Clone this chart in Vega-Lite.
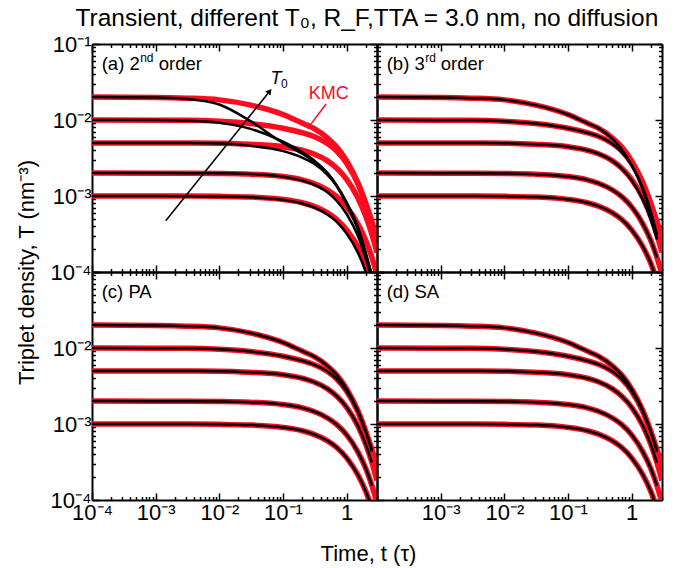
{
  "$schema": "https://vega.github.io/schema/vega-lite/v6.json",
  "padding": {"left": 15, "top": 5, "right": 10, "bottom": 6},
  "background": "white",
  "title": {"text": "Transient, different  T₀,  R_F,TTA = 3.0 nm, no diffusion", "font": "Liberation Sans", "fontSize": 24.5, "fontWeight": "normal", "color": "black", "anchor": "middle", "frame": "bounds", "dx": 28, "offset": 2},
  "bounds": "flush",
  "spacing": 0,
  "columns": 2,
  "datasets": {
    "kmc": [
      {"T0": 0.02, "t": 0.0001, "T": 0.02}, {"T0": 0.02, "t": 0.001, "T": 0.0198}, {"T0": 0.02, "t": 0.003, "T": 0.0194}, {"T0": 0.02, "t": 0.01, "T": 0.0184}, {"T0": 0.02, "t": 0.03, "T": 0.0158}, {"T0": 0.02, "t": 0.1, "T": 0.0118}, {"T0": 0.02, "t": 0.2, "T": 0.0091}, {"T0": 0.02, "t": 0.3, "T": 0.0078}, {"T0": 0.02, "t": 0.5, "T": 0.0058}, {"T0": 0.02, "t": 0.7, "T": 0.0044}, {"T0": 0.02, "t": 1, "T": 0.0029}, {"T0": 0.02, "t": 1.5, "T": 0.0015}, {"T0": 0.02, "t": 2, "T": 0.0008}, {"T0": 0.02, "t": 2.5, "T": 0.00046}, {"T0": 0.02, "t": 3, "T": 0.000275},
      {"T0": 0.01, "t": 0.0001, "T": 0.01}, {"T0": 0.01, "t": 0.001, "T": 0.00995}, {"T0": 0.01, "t": 0.003, "T": 0.0099}, {"T0": 0.01, "t": 0.01, "T": 0.0096}, {"T0": 0.01, "t": 0.03, "T": 0.009}, {"T0": 0.01, "t": 0.1, "T": 0.0078}, {"T0": 0.01, "t": 0.2, "T": 0.0068}, {"T0": 0.01, "t": 0.3, "T": 0.0061}, {"T0": 0.01, "t": 0.5, "T": 0.0049}, {"T0": 0.01, "t": 0.7, "T": 0.0039}, {"T0": 0.01, "t": 1, "T": 0.0027}, {"T0": 0.01, "t": 1.5, "T": 0.00145}, {"T0": 0.01, "t": 2, "T": 0.00078}, {"T0": 0.01, "t": 2.5, "T": 0.00043}, {"T0": 0.01, "t": 3, "T": 0.00024},
      {"T0": 0.005, "t": 0.0001, "T": 0.005}, {"T0": 0.005, "t": 0.001, "T": 0.004995}, {"T0": 0.005, "t": 0.003, "T": 0.00498}, {"T0": 0.005, "t": 0.01, "T": 0.00496}, {"T0": 0.005, "t": 0.03, "T": 0.0048}, {"T0": 0.005, "t": 0.1, "T": 0.00445}, {"T0": 0.005, "t": 0.2, "T": 0.004}, {"T0": 0.005, "t": 0.3, "T": 0.0036}, {"T0": 0.005, "t": 0.5, "T": 0.0029}, {"T0": 0.005, "t": 0.7, "T": 0.00232}, {"T0": 0.005, "t": 1, "T": 0.00166}, {"T0": 0.005, "t": 1.5, "T": 0.00095}, {"T0": 0.005, "t": 2, "T": 0.00054}, {"T0": 0.005, "t": 2.5, "T": 0.00031}, {"T0": 0.005, "t": 3, "T": 0.00018},
      {"T0": 0.002, "t": 0.0001, "T": 0.002}, {"T0": 0.002, "t": 0.001, "T": 0.001998}, {"T0": 0.002, "t": 0.003, "T": 0.001994}, {"T0": 0.002, "t": 0.01, "T": 0.00198}, {"T0": 0.002, "t": 0.03, "T": 0.00194}, {"T0": 0.002, "t": 0.1, "T": 0.0018}, {"T0": 0.002, "t": 0.2, "T": 0.00163}, {"T0": 0.002, "t": 0.3, "T": 0.00147}, {"T0": 0.002, "t": 0.5, "T": 0.0012}, {"T0": 0.002, "t": 0.7, "T": 0.00098}, {"T0": 0.002, "t": 1, "T": 0.00072}, {"T0": 0.002, "t": 1.5, "T": 0.00043}, {"T0": 0.002, "t": 2, "T": 0.00026}, {"T0": 0.002, "t": 2.5, "T": 0.000155}, {"T0": 0.002, "t": 3, "T": 0.000093},
      {"T0": 0.001, "t": 0.0001, "T": 0.001}, {"T0": 0.001, "t": 0.001, "T": 0.000999}, {"T0": 0.001, "t": 0.003, "T": 0.000997}, {"T0": 0.001, "t": 0.01, "T": 0.00099}, {"T0": 0.001, "t": 0.03, "T": 0.00097}, {"T0": 0.001, "t": 0.1, "T": 0.000902}, {"T0": 0.001, "t": 0.2, "T": 0.000816}, {"T0": 0.001, "t": 0.3, "T": 0.000737}, {"T0": 0.001, "t": 0.5, "T": 0.000601}, {"T0": 0.001, "t": 0.7, "T": 0.00049}, {"T0": 0.001, "t": 1, "T": 0.000358}, {"T0": 0.001, "t": 1.5, "T": 0.000215}, {"T0": 0.001, "t": 2, "T": 0.00013}, {"T0": 0.001, "t": 2.5, "T": 0.000078}, {"T0": 0.001, "t": 3, "T": 0.000047}
    ],
    "model": [
      {"panel": "a", "T0": 0.02, "t": 0.0001, "T": 0.02}, {"panel": "a", "T0": 0.02, "t": 0.001, "T": 0.0198}, {"panel": "a", "T0": 0.02, "t": 0.003, "T": 0.019}, {"panel": "a", "T0": 0.02, "t": 0.01, "T": 0.016}, {"panel": "a", "T0": 0.02, "t": 0.03, "T": 0.0098}, {"panel": "a", "T0": 0.02, "t": 0.1, "T": 0.005}, {"panel": "a", "T0": 0.02, "t": 0.2, "T": 0.0036}, {"panel": "a", "T0": 0.02, "t": 0.3, "T": 0.0029}, {"panel": "a", "T0": 0.02, "t": 0.5, "T": 0.002}, {"panel": "a", "T0": 0.02, "t": 0.7, "T": 0.00135}, {"panel": "a", "T0": 0.02, "t": 1, "T": 0.00078}, {"panel": "a", "T0": 0.02, "t": 1.5, "T": 0.00036}, {"panel": "a", "T0": 0.02, "t": 2, "T": 0.00016}, {"panel": "a", "T0": 0.02, "t": 2.5, "T": 0.000085},
      {"panel": "a", "T0": 0.01, "t": 0.0001, "T": 0.01}, {"panel": "a", "T0": 0.01, "t": 0.001, "T": 0.00998}, {"panel": "a", "T0": 0.01, "t": 0.003, "T": 0.0098}, {"panel": "a", "T0": 0.01, "t": 0.01, "T": 0.0092}, {"panel": "a", "T0": 0.01, "t": 0.03, "T": 0.0077}, {"panel": "a", "T0": 0.01, "t": 0.1, "T": 0.0052}, {"panel": "a", "T0": 0.01, "t": 0.2, "T": 0.0038}, {"panel": "a", "T0": 0.01, "t": 0.3, "T": 0.003}, {"panel": "a", "T0": 0.01, "t": 0.5, "T": 0.002}, {"panel": "a", "T0": 0.01, "t": 0.7, "T": 0.00138}, {"panel": "a", "T0": 0.01, "t": 1, "T": 0.00082}, {"panel": "a", "T0": 0.01, "t": 1.5, "T": 0.00038}, {"panel": "a", "T0": 0.01, "t": 2, "T": 0.00017}, {"panel": "a", "T0": 0.01, "t": 2.5, "T": 0.00009},
      {"panel": "a", "T0": 0.005, "t": 0.0001, "T": 0.005}, {"panel": "a", "T0": 0.005, "t": 0.001, "T": 0.005}, {"panel": "a", "T0": 0.005, "t": 0.003, "T": 0.00498}, {"panel": "a", "T0": 0.005, "t": 0.01, "T": 0.0049}, {"panel": "a", "T0": 0.005, "t": 0.03, "T": 0.0046}, {"panel": "a", "T0": 0.005, "t": 0.1, "T": 0.0039}, {"panel": "a", "T0": 0.005, "t": 0.2, "T": 0.0032}, {"panel": "a", "T0": 0.005, "t": 0.3, "T": 0.0027}, {"panel": "a", "T0": 0.005, "t": 0.5, "T": 0.0019}, {"panel": "a", "T0": 0.005, "t": 0.7, "T": 0.00135}, {"panel": "a", "T0": 0.005, "t": 1, "T": 0.00082}, {"panel": "a", "T0": 0.005, "t": 1.5, "T": 0.00039}, {"panel": "a", "T0": 0.005, "t": 2, "T": 0.00018}, {"panel": "a", "T0": 0.005, "t": 2.5, "T": 0.00009},
      {"panel": "a", "T0": 0.002, "t": 0.0001, "T": 0.002}, {"panel": "a", "T0": 0.002, "t": 0.001, "T": 0.002}, {"panel": "a", "T0": 0.002, "t": 0.003, "T": 0.001998}, {"panel": "a", "T0": 0.002, "t": 0.01, "T": 0.00199}, {"panel": "a", "T0": 0.002, "t": 0.03, "T": 0.00195}, {"panel": "a", "T0": 0.002, "t": 0.1, "T": 0.0018}, {"panel": "a", "T0": 0.002, "t": 0.2, "T": 0.0016}, {"panel": "a", "T0": 0.002, "t": 0.3, "T": 0.00142}, {"panel": "a", "T0": 0.002, "t": 0.5, "T": 0.00112}, {"panel": "a", "T0": 0.002, "t": 0.7, "T": 0.00086}, {"panel": "a", "T0": 0.002, "t": 1, "T": 0.00058}, {"panel": "a", "T0": 0.002, "t": 1.5, "T": 0.0003}, {"panel": "a", "T0": 0.002, "t": 2, "T": 0.00015}, {"panel": "a", "T0": 0.002, "t": 2.5, "T": 0.00008},
      {"panel": "a", "T0": 0.001, "t": 0.0001, "T": 0.001}, {"panel": "a", "T0": 0.001, "t": 0.001, "T": 0.000999}, {"panel": "a", "T0": 0.001, "t": 0.003, "T": 0.000996}, {"panel": "a", "T0": 0.001, "t": 0.01, "T": 0.000988}, {"panel": "a", "T0": 0.001, "t": 0.03, "T": 0.000963}, {"panel": "a", "T0": 0.001, "t": 0.1, "T": 0.00089}, {"panel": "a", "T0": 0.001, "t": 0.2, "T": 0.000795}, {"panel": "a", "T0": 0.001, "t": 0.3, "T": 0.000712}, {"panel": "a", "T0": 0.001, "t": 0.5, "T": 0.000572}, {"panel": "a", "T0": 0.001, "t": 0.7, "T": 0.000458}, {"panel": "a", "T0": 0.001, "t": 1, "T": 0.00032}, {"panel": "a", "T0": 0.001, "t": 1.5, "T": 0.00018}, {"panel": "a", "T0": 0.001, "t": 2, "T": 0.0001}, {"panel": "a", "T0": 0.001, "t": 2.5, "T": 0.000056},

      {"panel": "b", "T0": 0.02, "t": 0.0001, "T": 0.02}, {"panel": "b", "T0": 0.02, "t": 0.001, "T": 0.0198}, {"panel": "b", "T0": 0.02, "t": 0.003, "T": 0.0194}, {"panel": "b", "T0": 0.02, "t": 0.01, "T": 0.0184}, {"panel": "b", "T0": 0.02, "t": 0.03, "T": 0.0158}, {"panel": "b", "T0": 0.02, "t": 0.1, "T": 0.0118}, {"panel": "b", "T0": 0.02, "t": 0.2, "T": 0.0091}, {"panel": "b", "T0": 0.02, "t": 0.3, "T": 0.0078}, {"panel": "b", "T0": 0.02, "t": 0.5, "T": 0.005626}, {"panel": "b", "T0": 0.02, "t": 0.7, "T": 0.004092}, {"panel": "b", "T0": 0.02, "t": 1, "T": 0.002552}, {"panel": "b", "T0": 0.02, "t": 1.5, "T": 0.0012}, {"panel": "b", "T0": 0.02, "t": 2, "T": 0.00056}, {"panel": "b", "T0": 0.02, "t": 2.5, "T": 0.000276},
      {"panel": "b", "T0": 0.01, "t": 0.0001, "T": 0.01}, {"panel": "b", "T0": 0.01, "t": 0.001, "T": 0.00995}, {"panel": "b", "T0": 0.01, "t": 0.003, "T": 0.0099}, {"panel": "b", "T0": 0.01, "t": 0.01, "T": 0.0096}, {"panel": "b", "T0": 0.01, "t": 0.03, "T": 0.009}, {"panel": "b", "T0": 0.01, "t": 0.1, "T": 0.0078}, {"panel": "b", "T0": 0.01, "t": 0.2, "T": 0.0068}, {"panel": "b", "T0": 0.01, "t": 0.3, "T": 0.0061}, {"panel": "b", "T0": 0.01, "t": 0.5, "T": 0.004851}, {"panel": "b", "T0": 0.01, "t": 0.7, "T": 0.003783}, {"panel": "b", "T0": 0.01, "t": 1, "T": 0.002538}, {"panel": "b", "T0": 0.01, "t": 1.5, "T": 0.001276}, {"panel": "b", "T0": 0.01, "t": 2, "T": 0.000624}, {"panel": "b", "T0": 0.01, "t": 2.5, "T": 0.00031},
      {"panel": "b", "T0": 0.005, "t": 0.0001, "T": 0.005}, {"panel": "b", "T0": 0.005, "t": 0.001, "T": 0.004995}, {"panel": "b", "T0": 0.005, "t": 0.003, "T": 0.00498}, {"panel": "b", "T0": 0.005, "t": 0.01, "T": 0.00496}, {"panel": "b", "T0": 0.005, "t": 0.03, "T": 0.0048}, {"panel": "b", "T0": 0.005, "t": 0.1, "T": 0.00445}, {"panel": "b", "T0": 0.005, "t": 0.2, "T": 0.004}, {"panel": "b", "T0": 0.005, "t": 0.3, "T": 0.0036}, {"panel": "b", "T0": 0.005, "t": 0.5, "T": 0.0029}, {"panel": "b", "T0": 0.005, "t": 0.7, "T": 0.002297}, {"panel": "b", "T0": 0.005, "t": 1, "T": 0.00161}, {"panel": "b", "T0": 0.005, "t": 1.5, "T": 0.000893}, {"panel": "b", "T0": 0.005, "t": 2, "T": 0.000486}, {"panel": "b", "T0": 0.005, "t": 2.5, "T": 0.000267},
      {"panel": "b", "T0": 0.002, "t": 0.0001, "T": 0.002}, {"panel": "b", "T0": 0.002, "t": 0.001, "T": 0.001998}, {"panel": "b", "T0": 0.002, "t": 0.003, "T": 0.001994}, {"panel": "b", "T0": 0.002, "t": 0.01, "T": 0.00198}, {"panel": "b", "T0": 0.002, "t": 0.03, "T": 0.00194}, {"panel": "b", "T0": 0.002, "t": 0.1, "T": 0.0018}, {"panel": "b", "T0": 0.002, "t": 0.2, "T": 0.00163}, {"panel": "b", "T0": 0.002, "t": 0.3, "T": 0.00147}, {"panel": "b", "T0": 0.002, "t": 0.5, "T": 0.0012}, {"panel": "b", "T0": 0.002, "t": 0.7, "T": 0.00098}, {"panel": "b", "T0": 0.002, "t": 1, "T": 0.00072}, {"panel": "b", "T0": 0.002, "t": 1.5, "T": 0.00043}, {"panel": "b", "T0": 0.002, "t": 2, "T": 0.00026}, {"panel": "b", "T0": 0.002, "t": 2.5, "T": 0.000155},
      {"panel": "b", "T0": 0.001, "t": 0.0001, "T": 0.001}, {"panel": "b", "T0": 0.001, "t": 0.001, "T": 0.000999}, {"panel": "b", "T0": 0.001, "t": 0.003, "T": 0.000997}, {"panel": "b", "T0": 0.001, "t": 0.01, "T": 0.00099}, {"panel": "b", "T0": 0.001, "t": 0.03, "T": 0.00097}, {"panel": "b", "T0": 0.001, "t": 0.1, "T": 0.000902}, {"panel": "b", "T0": 0.001, "t": 0.2, "T": 0.000816}, {"panel": "b", "T0": 0.001, "t": 0.3, "T": 0.000737}, {"panel": "b", "T0": 0.001, "t": 0.5, "T": 0.000601}, {"panel": "b", "T0": 0.001, "t": 0.7, "T": 0.00049}, {"panel": "b", "T0": 0.001, "t": 1, "T": 0.000358}, {"panel": "b", "T0": 0.001, "t": 1.5, "T": 0.000215}, {"panel": "b", "T0": 0.001, "t": 2, "T": 0.00013}, {"panel": "b", "T0": 0.001, "t": 2.5, "T": 0.000078},

      {"panel": "c", "T0": 0.02, "t": 0.0001, "T": 0.02}, {"panel": "c", "T0": 0.02, "t": 0.001, "T": 0.0198}, {"panel": "c", "T0": 0.02, "t": 0.003, "T": 0.0194}, {"panel": "c", "T0": 0.02, "t": 0.01, "T": 0.0184}, {"panel": "c", "T0": 0.02, "t": 0.03, "T": 0.0158}, {"panel": "c", "T0": 0.02, "t": 0.1, "T": 0.0118}, {"panel": "c", "T0": 0.02, "t": 0.2, "T": 0.0091}, {"panel": "c", "T0": 0.02, "t": 0.3, "T": 0.0078}, {"panel": "c", "T0": 0.02, "t": 0.5, "T": 0.0058}, {"panel": "c", "T0": 0.02, "t": 0.7, "T": 0.0044}, {"panel": "c", "T0": 0.02, "t": 1, "T": 0.0029}, {"panel": "c", "T0": 0.02, "t": 1.5, "T": 0.0015}, {"panel": "c", "T0": 0.02, "t": 2, "T": 0.0008}, {"panel": "c", "T0": 0.02, "t": 2.5, "T": 0.00046},
      {"panel": "c", "T0": 0.01, "t": 0.0001, "T": 0.01}, {"panel": "c", "T0": 0.01, "t": 0.001, "T": 0.00995}, {"panel": "c", "T0": 0.01, "t": 0.003, "T": 0.0099}, {"panel": "c", "T0": 0.01, "t": 0.01, "T": 0.0096}, {"panel": "c", "T0": 0.01, "t": 0.03, "T": 0.009}, {"panel": "c", "T0": 0.01, "t": 0.1, "T": 0.0078}, {"panel": "c", "T0": 0.01, "t": 0.2, "T": 0.0068}, {"panel": "c", "T0": 0.01, "t": 0.3, "T": 0.0061}, {"panel": "c", "T0": 0.01, "t": 0.5, "T": 0.0049}, {"panel": "c", "T0": 0.01, "t": 0.7, "T": 0.0039}, {"panel": "c", "T0": 0.01, "t": 1, "T": 0.0027}, {"panel": "c", "T0": 0.01, "t": 1.5, "T": 0.00145}, {"panel": "c", "T0": 0.01, "t": 2, "T": 0.00078}, {"panel": "c", "T0": 0.01, "t": 2.5, "T": 0.00043},
      {"panel": "c", "T0": 0.005, "t": 0.0001, "T": 0.005}, {"panel": "c", "T0": 0.005, "t": 0.001, "T": 0.004995}, {"panel": "c", "T0": 0.005, "t": 0.003, "T": 0.00498}, {"panel": "c", "T0": 0.005, "t": 0.01, "T": 0.00496}, {"panel": "c", "T0": 0.005, "t": 0.03, "T": 0.0048}, {"panel": "c", "T0": 0.005, "t": 0.1, "T": 0.00445}, {"panel": "c", "T0": 0.005, "t": 0.2, "T": 0.004}, {"panel": "c", "T0": 0.005, "t": 0.3, "T": 0.0036}, {"panel": "c", "T0": 0.005, "t": 0.5, "T": 0.0029}, {"panel": "c", "T0": 0.005, "t": 0.7, "T": 0.00232}, {"panel": "c", "T0": 0.005, "t": 1, "T": 0.00166}, {"panel": "c", "T0": 0.005, "t": 1.5, "T": 0.00095}, {"panel": "c", "T0": 0.005, "t": 2, "T": 0.00054}, {"panel": "c", "T0": 0.005, "t": 2.5, "T": 0.00031},
      {"panel": "c", "T0": 0.002, "t": 0.0001, "T": 0.002}, {"panel": "c", "T0": 0.002, "t": 0.001, "T": 0.001998}, {"panel": "c", "T0": 0.002, "t": 0.003, "T": 0.001994}, {"panel": "c", "T0": 0.002, "t": 0.01, "T": 0.00198}, {"panel": "c", "T0": 0.002, "t": 0.03, "T": 0.00194}, {"panel": "c", "T0": 0.002, "t": 0.1, "T": 0.0018}, {"panel": "c", "T0": 0.002, "t": 0.2, "T": 0.00163}, {"panel": "c", "T0": 0.002, "t": 0.3, "T": 0.00147}, {"panel": "c", "T0": 0.002, "t": 0.5, "T": 0.0012}, {"panel": "c", "T0": 0.002, "t": 0.7, "T": 0.00098}, {"panel": "c", "T0": 0.002, "t": 1, "T": 0.00072}, {"panel": "c", "T0": 0.002, "t": 1.5, "T": 0.00043}, {"panel": "c", "T0": 0.002, "t": 2, "T": 0.00026}, {"panel": "c", "T0": 0.002, "t": 2.5, "T": 0.000155},
      {"panel": "c", "T0": 0.001, "t": 0.0001, "T": 0.001}, {"panel": "c", "T0": 0.001, "t": 0.001, "T": 0.000999}, {"panel": "c", "T0": 0.001, "t": 0.003, "T": 0.000997}, {"panel": "c", "T0": 0.001, "t": 0.01, "T": 0.00099}, {"panel": "c", "T0": 0.001, "t": 0.03, "T": 0.00097}, {"panel": "c", "T0": 0.001, "t": 0.1, "T": 0.000902}, {"panel": "c", "T0": 0.001, "t": 0.2, "T": 0.000816}, {"panel": "c", "T0": 0.001, "t": 0.3, "T": 0.000737}, {"panel": "c", "T0": 0.001, "t": 0.5, "T": 0.000601}, {"panel": "c", "T0": 0.001, "t": 0.7, "T": 0.00049}, {"panel": "c", "T0": 0.001, "t": 1, "T": 0.000358}, {"panel": "c", "T0": 0.001, "t": 1.5, "T": 0.000215}, {"panel": "c", "T0": 0.001, "t": 2, "T": 0.00013}, {"panel": "c", "T0": 0.001, "t": 2.5, "T": 0.000078},

      {"panel": "d", "T0": 0.02, "t": 0.0001, "T": 0.02}, {"panel": "d", "T0": 0.02, "t": 0.001, "T": 0.0198}, {"panel": "d", "T0": 0.02, "t": 0.003, "T": 0.0194}, {"panel": "d", "T0": 0.02, "t": 0.01, "T": 0.0184}, {"panel": "d", "T0": 0.02, "t": 0.03, "T": 0.0158}, {"panel": "d", "T0": 0.02, "t": 0.1, "T": 0.0118}, {"panel": "d", "T0": 0.02, "t": 0.2, "T": 0.0091}, {"panel": "d", "T0": 0.02, "t": 0.3, "T": 0.0078}, {"panel": "d", "T0": 0.02, "t": 0.5, "T": 0.0058}, {"panel": "d", "T0": 0.02, "t": 0.7, "T": 0.0044}, {"panel": "d", "T0": 0.02, "t": 1, "T": 0.0029}, {"panel": "d", "T0": 0.02, "t": 1.5, "T": 0.0015}, {"panel": "d", "T0": 0.02, "t": 2, "T": 0.0008}, {"panel": "d", "T0": 0.02, "t": 2.5, "T": 0.00046},
      {"panel": "d", "T0": 0.01, "t": 0.0001, "T": 0.01}, {"panel": "d", "T0": 0.01, "t": 0.001, "T": 0.00995}, {"panel": "d", "T0": 0.01, "t": 0.003, "T": 0.0099}, {"panel": "d", "T0": 0.01, "t": 0.01, "T": 0.0096}, {"panel": "d", "T0": 0.01, "t": 0.03, "T": 0.009}, {"panel": "d", "T0": 0.01, "t": 0.1, "T": 0.0078}, {"panel": "d", "T0": 0.01, "t": 0.2, "T": 0.0068}, {"panel": "d", "T0": 0.01, "t": 0.3, "T": 0.0061}, {"panel": "d", "T0": 0.01, "t": 0.5, "T": 0.0049}, {"panel": "d", "T0": 0.01, "t": 0.7, "T": 0.0039}, {"panel": "d", "T0": 0.01, "t": 1, "T": 0.0027}, {"panel": "d", "T0": 0.01, "t": 1.5, "T": 0.00145}, {"panel": "d", "T0": 0.01, "t": 2, "T": 0.00078}, {"panel": "d", "T0": 0.01, "t": 2.5, "T": 0.00043},
      {"panel": "d", "T0": 0.005, "t": 0.0001, "T": 0.005}, {"panel": "d", "T0": 0.005, "t": 0.001, "T": 0.004995}, {"panel": "d", "T0": 0.005, "t": 0.003, "T": 0.00498}, {"panel": "d", "T0": 0.005, "t": 0.01, "T": 0.00496}, {"panel": "d", "T0": 0.005, "t": 0.03, "T": 0.0048}, {"panel": "d", "T0": 0.005, "t": 0.1, "T": 0.00445}, {"panel": "d", "T0": 0.005, "t": 0.2, "T": 0.004}, {"panel": "d", "T0": 0.005, "t": 0.3, "T": 0.0036}, {"panel": "d", "T0": 0.005, "t": 0.5, "T": 0.0029}, {"panel": "d", "T0": 0.005, "t": 0.7, "T": 0.00232}, {"panel": "d", "T0": 0.005, "t": 1, "T": 0.00166}, {"panel": "d", "T0": 0.005, "t": 1.5, "T": 0.00095}, {"panel": "d", "T0": 0.005, "t": 2, "T": 0.00054}, {"panel": "d", "T0": 0.005, "t": 2.5, "T": 0.00031},
      {"panel": "d", "T0": 0.002, "t": 0.0001, "T": 0.002}, {"panel": "d", "T0": 0.002, "t": 0.001, "T": 0.001998}, {"panel": "d", "T0": 0.002, "t": 0.003, "T": 0.001994}, {"panel": "d", "T0": 0.002, "t": 0.01, "T": 0.00198}, {"panel": "d", "T0": 0.002, "t": 0.03, "T": 0.00194}, {"panel": "d", "T0": 0.002, "t": 0.1, "T": 0.0018}, {"panel": "d", "T0": 0.002, "t": 0.2, "T": 0.00163}, {"panel": "d", "T0": 0.002, "t": 0.3, "T": 0.00147}, {"panel": "d", "T0": 0.002, "t": 0.5, "T": 0.0012}, {"panel": "d", "T0": 0.002, "t": 0.7, "T": 0.00098}, {"panel": "d", "T0": 0.002, "t": 1, "T": 0.00072}, {"panel": "d", "T0": 0.002, "t": 1.5, "T": 0.00043}, {"panel": "d", "T0": 0.002, "t": 2, "T": 0.00026}, {"panel": "d", "T0": 0.002, "t": 2.5, "T": 0.000155},
      {"panel": "d", "T0": 0.001, "t": 0.0001, "T": 0.001}, {"panel": "d", "T0": 0.001, "t": 0.001, "T": 0.000999}, {"panel": "d", "T0": 0.001, "t": 0.003, "T": 0.000997}, {"panel": "d", "T0": 0.001, "t": 0.01, "T": 0.00099}, {"panel": "d", "T0": 0.001, "t": 0.03, "T": 0.00097}, {"panel": "d", "T0": 0.001, "t": 0.1, "T": 0.000902}, {"panel": "d", "T0": 0.001, "t": 0.2, "T": 0.000816}, {"panel": "d", "T0": 0.001, "t": 0.3, "T": 0.000737}, {"panel": "d", "T0": 0.001, "t": 0.5, "T": 0.000601}, {"panel": "d", "T0": 0.001, "t": 0.7, "T": 0.00049}, {"panel": "d", "T0": 0.001, "t": 1, "T": 0.000358}, {"panel": "d", "T0": 0.001, "t": 1.5, "T": 0.000215}, {"panel": "d", "T0": 0.001, "t": 2, "T": 0.00013}, {"panel": "d", "T0": 0.001, "t": 2.5, "T": 0.000078}
    ]
  },
  "concat": [
    {
      "width": 285, "height": 228,
      "resolve": {"axis": {"x": "independent", "y": "independent"}},
      "layer": [
        {
          "data": {"name": "kmc"},
          "mark": {"type": "line", "color": "#ff0a1e", "strokeWidth": 5.5, "clip": true, "interpolate": "monotone"},
          "encoding": {
            "x": {"field": "t", "type": "quantitative", "scale": {"type": "log", "domain": [0.0001, 3], "nice": false},
              "axis": {"orient": "bottom", "values": [0.0001,0.0002,0.0003,0.0004,0.0005,0.0006,0.0007,0.0008,0.0009,0.001,0.002,0.003,0.004,0.005,0.006,0.007,0.008,0.009,0.01,0.02,0.03,0.04,0.05,0.06,0.07,0.08,0.09,0.1,0.2,0.3,0.4,0.5,0.6,0.7,0.8,0.9,1,2,3], "tickSize": {"condition": {"test": "indexof([0.0001,0.001,0.01,0.1,1], datum.value) >= 0", "value": -7}, "value": -3.5}, "labels": false, "title": null}},
            "y": {"field": "T", "type": "quantitative", "scale": {"type": "log", "domain": [0.0001, 0.1], "nice": false},
              "axis": {"orient": "left", "values": [0.0001,0.0002,0.0003,0.0004,0.0005,0.0006,0.0007,0.0008,0.0009,0.001,0.002,0.003,0.004,0.005,0.006,0.007,0.008,0.009,0.01,0.02,0.03,0.04,0.05,0.06,0.07,0.08,0.09,0.1], "tickSize": {"condition": {"test": "indexof([0.0001,0.001,0.01,0.1,1], datum.value) >= 0", "value": -7}, "value": -3.5},
                "labelExpr": "datum.value == 0.1 ? '10⁻¹' : datum.value == 0.01 ? '10⁻²' : datum.value == 0.001 ? '10⁻³' : datum.value == 0.0001 ? '10⁻⁴' : ''", "labelPadding": 8,
                "title": "Triplet density,  T (nm⁻³)", "titleX": -59, "titleY": 228, "titleAlign": "center", "titleBaseline": "alphabetic", "titleAngle": -90}},
            "detail": {"field": "T0"}
          }
        },
        {
          "data": {"name": "model"},
          "transform": [{"filter": "datum.panel == 'a'"}],
          "mark": {"type": "line", "color": "black", "strokeWidth": 2.5, "clip": true, "interpolate": "monotone"},
          "encoding": {
            "x": {"field": "t", "type": "quantitative", "scale": {"type": "log", "domain": [0.0001, 3], "nice": false},
              "axis": {"orient": "top", "values": [0.0001,0.0002,0.0003,0.0004,0.0005,0.0006,0.0007,0.0008,0.0009,0.001,0.002,0.003,0.004,0.005,0.006,0.007,0.008,0.009,0.01,0.02,0.03,0.04,0.05,0.06,0.07,0.08,0.09,0.1,0.2,0.3,0.4,0.5,0.6,0.7,0.8,0.9,1,2,3], "tickSize": {"condition": {"test": "indexof([0.0001,0.001,0.01,0.1,1], datum.value) >= 0", "value": -7}, "value": -3.5}, "labels": false, "title": null}},
            "y": {"field": "T", "type": "quantitative", "scale": {"type": "log", "domain": [0.0001, 0.1], "nice": false},
              "axis": {"orient": "right", "values": [0.0001,0.0002,0.0003,0.0004,0.0005,0.0006,0.0007,0.0008,0.0009,0.001,0.002,0.003,0.004,0.005,0.006,0.007,0.008,0.009,0.01,0.02,0.03,0.04,0.05,0.06,0.07,0.08,0.09,0.1], "tickSize": {"condition": {"test": "indexof([0.0001,0.001,0.01,0.1,1], datum.value) >= 0", "value": -7}, "value": -3.5}, "labels": false, "title": null}},
            "detail": {"field": "T0"}
          }
        },
        {
          "data": {"values": [{"t": 0.00144, "T": 0.000473, "t2": 0.0618, "T2": 0.0239}]},
          "mark": {"type": "rule", "color": "black", "strokeWidth": 1.5},
          "encoding": {
            "x": {"field": "t", "type": "quantitative", "scale": {"type": "log", "domain": [0.0001, 3], "nice": false}, "axis": null},
            "y": {"field": "T", "type": "quantitative", "scale": {"type": "log", "domain": [0.0001, 0.1], "nice": false}, "axis": null},
            "x2": {"field": "t2"}, "y2": {"field": "T2"}
          }
        },
        {
          "data": {"values": [{"t": 0.0618, "T": 0.0239}]},
          "mark": {"type": "point", "shape": "triangle-up", "filled": true, "color": "black", "opacity": 1, "size": 45, "angle": 38.8},
          "encoding": {
            "x": {"field": "t", "type": "quantitative", "scale": {"type": "log", "domain": [0.0001, 3], "nice": false}, "axis": null},
            "y": {"field": "T", "type": "quantitative", "scale": {"type": "log", "domain": [0.0001, 0.1], "nice": false}, "axis": null}
          }
        },
        {
          "data": {"values": [{"t": 0.476, "T": 0.01625, "t2": 0.256, "T2": 0.00818}]},
          "mark": {"type": "rule", "color": "#ff0a1e", "strokeWidth": 1.5},
          "encoding": {
            "x": {"field": "t", "type": "quantitative", "scale": {"type": "log", "domain": [0.0001, 3], "nice": false}, "axis": null},
            "y": {"field": "T", "type": "quantitative", "scale": {"type": "log", "domain": [0.0001, 0.1], "nice": false}, "axis": null},
            "x2": {"field": "t2"}, "y2": {"field": "T2"}
          }
        },
        {
          "data": {"values": [{"t": 0.256, "T": 0.00818}]},
          "mark": {"type": "point", "shape": "triangle-up", "filled": true, "color": "#ff0a1e", "opacity": 1, "size": 45, "angle": 217},
          "encoding": {
            "x": {"field": "t", "type": "quantitative", "scale": {"type": "log", "domain": [0.0001, 3], "nice": false}, "axis": null},
            "y": {"field": "T", "type": "quantitative", "scale": {"type": "log", "domain": [0.0001, 0.1], "nice": false}, "axis": null}
          }
        },
        {
          "data": {"values": [{"t": 0.526, "T": 0.01888, "label": "KMC"}]},
          "mark": {"type": "text", "align": "center", "baseline": "alphabetic", "font": "Liberation Sans", "fontSize": 18, "color": "#ff0a1e"},
          "encoding": {
            "x": {"field": "t", "type": "quantitative", "scale": {"type": "log", "domain": [0.0001, 3], "nice": false}, "axis": null},
            "y": {"field": "T", "type": "quantitative", "scale": {"type": "log", "domain": [0.0001, 0.1], "nice": false}, "axis": null},
            "text": {"field": "label"}
          }
        },
        {
          "data": {"values": [{"t": 0.0775, "T": 0.0298, "label": "T"}]},
          "mark": {"type": "text", "align": "center", "baseline": "alphabetic", "font": "Liberation Sans", "fontSize": 18, "fontStyle": "italic", "color": "black"},
          "encoding": {
            "x": {"field": "t", "type": "quantitative", "scale": {"type": "log", "domain": [0.0001, 3], "nice": false}, "axis": null},
            "y": {"field": "T", "type": "quantitative", "scale": {"type": "log", "domain": [0.0001, 0.1], "nice": false}, "axis": null},
            "text": {"field": "label"}
          }
        },
        {
          "data": {"values": [{"t": 0.0775, "T": 0.0298, "label": "0"}]},
          "mark": {"type": "text", "align": "left", "baseline": "alphabetic", "dx": 5, "dy": 4, "font": "Liberation Sans", "fontSize": 12, "color": "black"},
          "encoding": {
            "x": {"field": "t", "type": "quantitative", "scale": {"type": "log", "domain": [0.0001, 3], "nice": false}, "axis": null},
            "y": {"field": "T", "type": "quantitative", "scale": {"type": "log", "domain": [0.0001, 0.1], "nice": false}, "axis": null},
            "text": {"field": "label"}
          }
        },
        {
          "data": {"values": [{"t": 0.000142, "T": 0.0455, "label": "(a) 2"}]},
          "mark": {"type": "text", "align": "left", "baseline": "alphabetic", "font": "Liberation Sans", "fontSize": 18.5, "color": "black"},
          "encoding": {
            "x": {"field": "t", "type": "quantitative", "scale": {"type": "log", "domain": [0.0001, 3], "nice": false}, "axis": null},
            "y": {"field": "T", "type": "quantitative", "scale": {"type": "log", "domain": [0.0001, 0.1], "nice": false}, "axis": null},
            "text": {"field": "label"}
          }
        },
        {
          "data": {"values": [{"t": 0.000142, "T": 0.0455, "label": "nd"}]},
          "mark": {"type": "text", "align": "left", "baseline": "alphabetic", "dx": 38.5, "dy": -7.5, "font": "Liberation Sans", "fontSize": 12, "color": "black"},
          "encoding": {
            "x": {"field": "t", "type": "quantitative", "scale": {"type": "log", "domain": [0.0001, 3], "nice": false}, "axis": null},
            "y": {"field": "T", "type": "quantitative", "scale": {"type": "log", "domain": [0.0001, 0.1], "nice": false}, "axis": null},
            "text": {"field": "label"}
          }
        },
        {
          "data": {"values": [{"t": 0.000142, "T": 0.0455, "label": "order"}]},
          "mark": {"type": "text", "align": "left", "baseline": "alphabetic", "dx": 57, "font": "Liberation Sans", "fontSize": 18.5, "color": "black"},
          "encoding": {
            "x": {"field": "t", "type": "quantitative", "scale": {"type": "log", "domain": [0.0001, 3], "nice": false}, "axis": null},
            "y": {"field": "T", "type": "quantitative", "scale": {"type": "log", "domain": [0.0001, 0.1], "nice": false}, "axis": null},
            "text": {"field": "label"}
          }
        }
      ]
    },
    {
      "width": 285, "height": 228,
      "resolve": {"axis": {"x": "independent", "y": "independent"}},
      "layer": [
        {
          "data": {"name": "kmc"},
          "mark": {"type": "line", "color": "#ff0a1e", "strokeWidth": 5.5, "clip": true, "interpolate": "monotone"},
          "encoding": {
            "x": {"field": "t", "type": "quantitative", "scale": {"type": "log", "domain": [0.0001, 3], "nice": false},
              "axis": {"orient": "bottom", "values": [0.0001,0.0002,0.0003,0.0004,0.0005,0.0006,0.0007,0.0008,0.0009,0.001,0.002,0.003,0.004,0.005,0.006,0.007,0.008,0.009,0.01,0.02,0.03,0.04,0.05,0.06,0.07,0.08,0.09,0.1,0.2,0.3,0.4,0.5,0.6,0.7,0.8,0.9,1,2,3], "tickSize": {"condition": {"test": "indexof([0.0001,0.001,0.01,0.1,1], datum.value) >= 0", "value": -7}, "value": -3.5}, "labels": false, "title": null}},
            "y": {"field": "T", "type": "quantitative", "scale": {"type": "log", "domain": [0.0001, 0.1], "nice": false},
              "axis": {"orient": "left", "values": [0.0001,0.0002,0.0003,0.0004,0.0005,0.0006,0.0007,0.0008,0.0009,0.001,0.002,0.003,0.004,0.005,0.006,0.007,0.008,0.009,0.01,0.02,0.03,0.04,0.05,0.06,0.07,0.08,0.09,0.1], "tickSize": {"condition": {"test": "indexof([0.0001,0.001,0.01,0.1,1], datum.value) >= 0", "value": -7}, "value": -3.5}, "labels": false, "title": null}},
            "detail": {"field": "T0"}
          }
        },
        {
          "data": {"name": "model"},
          "transform": [{"filter": "datum.panel == 'b'"}],
          "mark": {"type": "line", "color": "black", "strokeWidth": 2.5, "clip": true, "interpolate": "monotone"},
          "encoding": {
            "x": {"field": "t", "type": "quantitative", "scale": {"type": "log", "domain": [0.0001, 3], "nice": false},
              "axis": {"orient": "top", "values": [0.0001,0.0002,0.0003,0.0004,0.0005,0.0006,0.0007,0.0008,0.0009,0.001,0.002,0.003,0.004,0.005,0.006,0.007,0.008,0.009,0.01,0.02,0.03,0.04,0.05,0.06,0.07,0.08,0.09,0.1,0.2,0.3,0.4,0.5,0.6,0.7,0.8,0.9,1,2,3], "tickSize": {"condition": {"test": "indexof([0.0001,0.001,0.01,0.1,1], datum.value) >= 0", "value": -7}, "value": -3.5}, "labels": false, "title": null}},
            "y": {"field": "T", "type": "quantitative", "scale": {"type": "log", "domain": [0.0001, 0.1], "nice": false},
              "axis": {"orient": "right", "values": [0.0001,0.0002,0.0003,0.0004,0.0005,0.0006,0.0007,0.0008,0.0009,0.001,0.002,0.003,0.004,0.005,0.006,0.007,0.008,0.009,0.01,0.02,0.03,0.04,0.05,0.06,0.07,0.08,0.09,0.1], "tickSize": {"condition": {"test": "indexof([0.0001,0.001,0.01,0.1,1], datum.value) >= 0", "value": -7}, "value": -3.5}, "labels": false, "title": null}},
            "detail": {"field": "T0"}
          }
        },
        {
          "data": {"values": [{"t": 0.000142, "T": 0.0455, "label": "(b) 3"}]},
          "mark": {"type": "text", "align": "left", "baseline": "alphabetic", "font": "Liberation Sans", "fontSize": 18.5, "color": "black"},
          "encoding": {
            "x": {"field": "t", "type": "quantitative", "scale": {"type": "log", "domain": [0.0001, 3], "nice": false}, "axis": null},
            "y": {"field": "T", "type": "quantitative", "scale": {"type": "log", "domain": [0.0001, 0.1], "nice": false}, "axis": null},
            "text": {"field": "label"}
          }
        },
        {
          "data": {"values": [{"t": 0.000142, "T": 0.0455, "label": "rd"}]},
          "mark": {"type": "text", "align": "left", "baseline": "alphabetic", "dx": 38.5, "dy": -7.5, "font": "Liberation Sans", "fontSize": 12, "color": "black"},
          "encoding": {
            "x": {"field": "t", "type": "quantitative", "scale": {"type": "log", "domain": [0.0001, 3], "nice": false}, "axis": null},
            "y": {"field": "T", "type": "quantitative", "scale": {"type": "log", "domain": [0.0001, 0.1], "nice": false}, "axis": null},
            "text": {"field": "label"}
          }
        },
        {
          "data": {"values": [{"t": 0.000142, "T": 0.0455, "label": "order"}]},
          "mark": {"type": "text", "align": "left", "baseline": "alphabetic", "dx": 54, "font": "Liberation Sans", "fontSize": 18.5, "color": "black"},
          "encoding": {
            "x": {"field": "t", "type": "quantitative", "scale": {"type": "log", "domain": [0.0001, 3], "nice": false}, "axis": null},
            "y": {"field": "T", "type": "quantitative", "scale": {"type": "log", "domain": [0.0001, 0.1], "nice": false}, "axis": null},
            "text": {"field": "label"}
          }
        }
      ]
    },
    {
      "width": 285, "height": 228,
      "resolve": {"axis": {"x": "independent", "y": "independent"}},
      "layer": [
        {
          "data": {"name": "kmc"},
          "mark": {"type": "line", "color": "#ff0a1e", "strokeWidth": 5.5, "clip": true, "interpolate": "monotone"},
          "encoding": {
            "x": {"field": "t", "type": "quantitative", "scale": {"type": "log", "domain": [0.0001, 3], "nice": false},
              "axis": {"orient": "bottom", "values": [0.0001,0.0002,0.0003,0.0004,0.0005,0.0006,0.0007,0.0008,0.0009,0.001,0.002,0.003,0.004,0.005,0.006,0.007,0.008,0.009,0.01,0.02,0.03,0.04,0.05,0.06,0.07,0.08,0.09,0.1,0.2,0.3,0.4,0.5,0.6,0.7,0.8,0.9,1,2,3], "tickSize": {"condition": {"test": "indexof([0.0001,0.001,0.01,0.1,1], datum.value) >= 0", "value": -7}, "value": -3.5},
                "labelExpr": "datum.value == 0.0001 ? '10⁻⁴' : datum.value == 0.001 ? '10⁻³' : datum.value == 0.01 ? '10⁻²' : datum.value == 0.1 ? '10⁻¹' : datum.value == 1 ? '1' : ''", "labelPadding": 9,
                "title": "Time,  t (τ)", "titleX": 276, "titleY": 60, "titleAlign": "center", "titleBaseline": "alphabetic"}},
            "y": {"field": "T", "type": "quantitative", "scale": {"type": "log", "domain": [0.0001, 0.1], "nice": false},
              "axis": {"orient": "left", "values": [0.0001,0.0002,0.0003,0.0004,0.0005,0.0006,0.0007,0.0008,0.0009,0.001,0.002,0.003,0.004,0.005,0.006,0.007,0.008,0.009,0.01,0.02,0.03,0.04,0.05,0.06,0.07,0.08,0.09,0.1], "tickSize": {"condition": {"test": "indexof([0.0001,0.001,0.01,0.1,1], datum.value) >= 0", "value": -7}, "value": -3.5},
                "labelExpr": "datum.value == 0.01 ? '10⁻²' : datum.value == 0.001 ? '10⁻³' : datum.value == 0.0001 ? '10⁻⁴' : ''", "labelPadding": 8, "title": null}},
            "detail": {"field": "T0"}
          }
        },
        {
          "data": {"name": "model"},
          "transform": [{"filter": "datum.panel == 'c'"}],
          "mark": {"type": "line", "color": "black", "strokeWidth": 2.5, "clip": true, "interpolate": "monotone"},
          "encoding": {
            "x": {"field": "t", "type": "quantitative", "scale": {"type": "log", "domain": [0.0001, 3], "nice": false},
              "axis": {"orient": "top", "values": [0.0001,0.0002,0.0003,0.0004,0.0005,0.0006,0.0007,0.0008,0.0009,0.001,0.002,0.003,0.004,0.005,0.006,0.007,0.008,0.009,0.01,0.02,0.03,0.04,0.05,0.06,0.07,0.08,0.09,0.1,0.2,0.3,0.4,0.5,0.6,0.7,0.8,0.9,1,2,3], "tickSize": {"condition": {"test": "indexof([0.0001,0.001,0.01,0.1,1], datum.value) >= 0", "value": -7}, "value": -3.5}, "labels": false, "title": null}},
            "y": {"field": "T", "type": "quantitative", "scale": {"type": "log", "domain": [0.0001, 0.1], "nice": false},
              "axis": {"orient": "right", "values": [0.0001,0.0002,0.0003,0.0004,0.0005,0.0006,0.0007,0.0008,0.0009,0.001,0.002,0.003,0.004,0.005,0.006,0.007,0.008,0.009,0.01,0.02,0.03,0.04,0.05,0.06,0.07,0.08,0.09,0.1], "tickSize": {"condition": {"test": "indexof([0.0001,0.001,0.01,0.1,1], datum.value) >= 0", "value": -7}, "value": -3.5}, "labels": false, "title": null}},
            "detail": {"field": "T0"}
          }
        },
        {
          "data": {"values": [{"t": 0.000142, "T": 0.0455, "label": "(c) PA"}]},
          "mark": {"type": "text", "align": "left", "baseline": "alphabetic", "font": "Liberation Sans", "fontSize": 18.5, "color": "black"},
          "encoding": {
            "x": {"field": "t", "type": "quantitative", "scale": {"type": "log", "domain": [0.0001, 3], "nice": false}, "axis": null},
            "y": {"field": "T", "type": "quantitative", "scale": {"type": "log", "domain": [0.0001, 0.1], "nice": false}, "axis": null},
            "text": {"field": "label"}
          }
        }
      ]
    },
    {
      "width": 285, "height": 228,
      "resolve": {"axis": {"x": "independent", "y": "independent"}},
      "layer": [
        {
          "data": {"name": "kmc"},
          "mark": {"type": "line", "color": "#ff0a1e", "strokeWidth": 5.5, "clip": true, "interpolate": "monotone"},
          "encoding": {
            "x": {"field": "t", "type": "quantitative", "scale": {"type": "log", "domain": [0.0001, 3], "nice": false},
              "axis": {"orient": "bottom", "values": [0.0001,0.0002,0.0003,0.0004,0.0005,0.0006,0.0007,0.0008,0.0009,0.001,0.002,0.003,0.004,0.005,0.006,0.007,0.008,0.009,0.01,0.02,0.03,0.04,0.05,0.06,0.07,0.08,0.09,0.1,0.2,0.3,0.4,0.5,0.6,0.7,0.8,0.9,1,2,3], "tickSize": {"condition": {"test": "indexof([0.0001,0.001,0.01,0.1,1], datum.value) >= 0", "value": -7}, "value": -3.5},
                "labelExpr": "datum.value == 0.001 ? '10⁻³' : datum.value == 0.01 ? '10⁻²' : datum.value == 0.1 ? '10⁻¹' : datum.value == 1 ? '1' : ''", "labelPadding": 9, "title": null}},
            "y": {"field": "T", "type": "quantitative", "scale": {"type": "log", "domain": [0.0001, 0.1], "nice": false},
              "axis": {"orient": "left", "values": [0.0001,0.0002,0.0003,0.0004,0.0005,0.0006,0.0007,0.0008,0.0009,0.001,0.002,0.003,0.004,0.005,0.006,0.007,0.008,0.009,0.01,0.02,0.03,0.04,0.05,0.06,0.07,0.08,0.09,0.1], "tickSize": {"condition": {"test": "indexof([0.0001,0.001,0.01,0.1,1], datum.value) >= 0", "value": -7}, "value": -3.5}, "labels": false, "title": null}},
            "detail": {"field": "T0"}
          }
        },
        {
          "data": {"name": "model"},
          "transform": [{"filter": "datum.panel == 'd'"}],
          "mark": {"type": "line", "color": "black", "strokeWidth": 2.5, "clip": true, "interpolate": "monotone"},
          "encoding": {
            "x": {"field": "t", "type": "quantitative", "scale": {"type": "log", "domain": [0.0001, 3], "nice": false},
              "axis": {"orient": "top", "values": [0.0001,0.0002,0.0003,0.0004,0.0005,0.0006,0.0007,0.0008,0.0009,0.001,0.002,0.003,0.004,0.005,0.006,0.007,0.008,0.009,0.01,0.02,0.03,0.04,0.05,0.06,0.07,0.08,0.09,0.1,0.2,0.3,0.4,0.5,0.6,0.7,0.8,0.9,1,2,3], "tickSize": {"condition": {"test": "indexof([0.0001,0.001,0.01,0.1,1], datum.value) >= 0", "value": -7}, "value": -3.5}, "labels": false, "title": null}},
            "y": {"field": "T", "type": "quantitative", "scale": {"type": "log", "domain": [0.0001, 0.1], "nice": false},
              "axis": {"orient": "right", "values": [0.0001,0.0002,0.0003,0.0004,0.0005,0.0006,0.0007,0.0008,0.0009,0.001,0.002,0.003,0.004,0.005,0.006,0.007,0.008,0.009,0.01,0.02,0.03,0.04,0.05,0.06,0.07,0.08,0.09,0.1], "tickSize": {"condition": {"test": "indexof([0.0001,0.001,0.01,0.1,1], datum.value) >= 0", "value": -7}, "value": -3.5}, "labels": false, "title": null}},
            "detail": {"field": "T0"}
          }
        },
        {
          "data": {"values": [{"t": 0.000142, "T": 0.0455, "label": "(d) SA"}]},
          "mark": {"type": "text", "align": "left", "baseline": "alphabetic", "font": "Liberation Sans", "fontSize": 18.5, "color": "black"},
          "encoding": {
            "x": {"field": "t", "type": "quantitative", "scale": {"type": "log", "domain": [0.0001, 3], "nice": false}, "axis": null},
            "y": {"field": "T", "type": "quantitative", "scale": {"type": "log", "domain": [0.0001, 0.1], "nice": false}, "axis": null},
            "text": {"field": "label"}
          }
        }
      ]
    }
  ],
  "config": {
    "view": {"stroke": null},
    "axis": {"domainColor": "black", "domainWidth": 2, "tickColor": "black", "tickWidth": 1.5, "grid": false, "labelFont": "Liberation Sans", "labelFontSize": 22, "labelColor": "black", "labelPadding": 5, "labelOverlap": false, "labelFlush": false, "labelBound": false, "titleFont": "Liberation Sans", "titleFontSize": 22, "titleFontWeight": "normal", "titleColor": "black"}
  }
}
